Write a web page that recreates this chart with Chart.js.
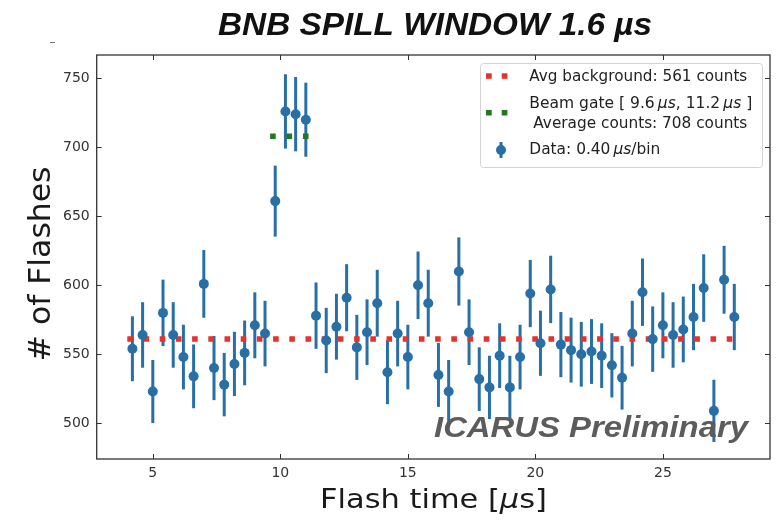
<!DOCTYPE html>
<html>
<head>
<meta charset="utf-8">
<script src="https://cdn.jsdelivr.net/npm/chart.js@4.4.1/dist/chart.umd.min.js"></script>
<style>
  html, body { margin: 0; padding: 0; background: #fff; }
  #myChart { display: block; }
</style>
</head>
<body>
<canvas id="myChart" width="779" height="521"></canvas>
<script>
// flash time bins (us), 0.40 us/bin
const times = [4.2, 4.6, 5.0, 5.4, 5.8, 6.2, 6.6, 7.0, 7.4, 7.8,
  8.2, 8.6, 9.0, 9.4, 9.8, 10.2, 10.6, 11.0, 11.4, 11.8,
  12.2, 12.6, 13.0, 13.4, 13.8, 14.2, 14.6, 15.0, 15.4, 15.8,
  16.2, 16.6, 17.0, 17.4, 17.8, 18.2, 18.6, 19.0, 19.4, 19.8,
  20.2, 20.6, 21.0, 21.4, 21.8, 22.2, 22.6, 23.0, 23.4, 23.8,
  24.2, 24.6, 25.0, 25.4, 25.8, 26.2, 26.6, 27.0, 27.4, 27.8]
// number of flashes per bin
const counts = [554, 564, 523, 580, 564, 548, 534, 601, 540, 528,
  543, 551, 571, 565, 661, 726, 724, 720, 578, 560,
  570, 591, 555, 566, 587, 537, 565, 548, 600, 587,
  535, 523, 610, 566, 532, 526, 549, 526, 548, 594,
  558, 597, 557, 553, 550, 552, 549, 542, 533, 565,
  595, 561, 571, 564, 568, 577, 598, 509, 604, 577]
const bkgRange = [4.0, 28.0]
const gateRange = [9.6, 11.2]
const averages = [561, 708] // background, beam gate
const xTicks = [5, 10, 15, 20, 25]
const yTicks = [500, 550, 600, 650, 700, 750]

// poisson errors
const errors = counts.map(n => Math.sqrt(n))

const blue = '#276fa5'
const red = '#e9302a'
const green = '#1f7a1f'
const ink = '#333333'

Chart.defaults.font.family = '"DejaVu Sans"'

// draws text pieces (some italic) squeezed/stretched to a given width
function drawRuns(ctx, runs, x, y, size, width, family) {
  family = family || '"DejaVu Sans"'
  let total = 0
  runs.forEach(r => {
    ctx.font = r[1] + ' ' + size + 'px ' + family
    total += ctx.measureText(r[0]).width
  })
  const k = width ? width / total : 1
  ctx.save()
  ctx.translate(x, y)
  ctx.scale(k, 1)
  let cx = 0
  runs.forEach(r => {
    ctx.font = r[1] + ' ' + size + 'px ' + family
    ctx.fillText(r[0], cx, 0)
    cx += ctx.measureText(r[0]).width
  })
  ctx.restore()
}

const errorBars = {
  id: 'errorBars',
  beforeDatasetsDraw(chart) {
    const ctx = chart.ctx
    const xs = chart.scales.x, ys = chart.scales.y
    ctx.save()
    ctx.strokeStyle = blue
    ctx.lineWidth = 3
    times.forEach((t, i) => {
      const px = xs.getPixelForValue(t)
      ctx.beginPath()
      ctx.moveTo(px, ys.getPixelForValue(counts[i] - errors[i]))
      ctx.lineTo(px, ys.getPixelForValue(counts[i] + errors[i]))
      ctx.stroke()
    })
    ctx.restore()
  }
}

const decor = {
  id: 'decor',
  afterDraw(chart) {
    const ctx = chart.ctx
    const a = chart.chartArea
    const xs = chart.scales.x, ys = chart.scales.y
    ctx.save()

    // frame + inward ticks on all sides
    ctx.strokeStyle = ink
    ctx.lineWidth = 1.3
    ctx.strokeRect(a.left, a.top, a.right - a.left, a.bottom - a.top)
    ctx.lineWidth = 1
    ctx.beginPath()
    xTicks.forEach(v => {
      const px = Math.round(xs.getPixelForValue(v)) + 0.5
      ctx.moveTo(px, a.bottom); ctx.lineTo(px, a.bottom - 5)
      ctx.moveTo(px, a.top); ctx.lineTo(px, a.top + 5)
    })
    yTicks.forEach(v => {
      const py = Math.round(ys.getPixelForValue(v)) + 0.5
      ctx.moveTo(a.left, py); ctx.lineTo(a.left + 5, py)
      ctx.moveTo(a.right, py); ctx.lineTo(a.right - 5, py)
    })
    ctx.stroke()

    // stray tick mark top left
    ctx.strokeStyle = '#777'
    ctx.beginPath(); ctx.moveTo(50, 42.5); ctx.lineTo(55, 42.5); ctx.stroke()

    // title
    ctx.fillStyle = '#111'
    ctx.textAlign = 'left'
    ctx.textBaseline = 'alphabetic'
    drawRuns(ctx, [['BNB SPILL WINDOW 1.6 \u00b5s', 'italic bold']], 218, 35, 31, 434, '"Liberation Sans"')

    // axis titles
    ctx.fillStyle = '#1a1a1a'
    drawRuns(ctx, [['Flash time [', 'normal'], ['\u00b5', 'italic'], ['s]', 'normal']], 320, 508, 27, 227)
    ctx.save()
    ctx.translate(50, 361.5)
    ctx.rotate(-Math.PI / 2)
    drawRuns(ctx, [['# of Flashes', 'normal']], 0, 0, 30, 195)
    ctx.restore()

    // watermark
    ctx.fillStyle = '#5c5c5c'
    drawRuns(ctx, [['ICARUS Preliminary', 'italic bold']], 434, 437, 29, 314, '"Liberation Sans"')

    // legend
    ctx.fillStyle = 'rgba(255,255,255,0.85)'
    ctx.strokeStyle = '#d4d4d4'
    ctx.lineWidth = 1
    ctx.beginPath()
    ctx.roundRect(480.5, 63.5, 282, 104, 3)
    ctx.fill(); ctx.stroke()

    ctx.fillStyle = red
    ctx.fillRect(486, 73.3, 5.7, 5.5)
    ctx.fillRect(501.7, 73.3, 5.7, 5.5)
    ctx.fillStyle = green
    ctx.fillRect(486, 110, 5.7, 5.5)
    ctx.fillRect(501.7, 110, 5.7, 5.5)
    ctx.strokeStyle = blue
    ctx.lineWidth = 3
    ctx.beginPath(); ctx.moveTo(501, 142); ctx.lineTo(501, 158); ctx.stroke()
    ctx.fillStyle = blue
    ctx.beginPath(); ctx.arc(501, 150, 5, 0, Math.PI * 2); ctx.fill()

    ctx.fillStyle = '#222'
    ctx.textBaseline = 'middle'
    drawRuns(ctx, [['Avg background: ' + averages[0] + ' counts', 'normal']], 529.3, 77, 15, 218)
    drawRuns(ctx, [['Beam gate [ ' + gateRange[0].toFixed(1) + '\u2009', 'normal'], ['\u00b5s', 'italic'],
      [', ' + gateRange[1].toFixed(1) + '\u2009', 'normal'], ['\u00b5s', 'italic'], [' ]', 'normal']], 529.3, 104, 15, 223)
    drawRuns(ctx, [['Average counts: ' + averages[1] + ' counts', 'normal']], 533.3, 124.5, 15, 214)
    drawRuns(ctx, [['Data: 0.40\u2009', 'normal'], ['\u00b5s', 'italic'], ['/bin', 'normal']], 529.3, 150.5, 15, 131)

    ctx.restore()
  }
}

new Chart('myChart', {
  type: 'scatter',
  data: {
    datasets: [{
      label: 'Data',
      data: times.map((t, i) => ({ x: t, y: counts[i] })),
      backgroundColor: blue,
      borderWidth: 0,
      pointRadius: 5
    }, {
      label: 'Avg background',
      data: bkgRange.map(t => ({ x: t, y: averages[0] })),
      showLine: true,
      borderColor: red,
      borderWidth: 5.5,
      borderDash: [5.6, 10.6],
      borderCapStyle: 'butt',
      pointRadius: 0
    }, {
      label: 'Beam gate',
      data: gateRange.map(t => ({ x: t, y: averages[1] })),
      showLine: true,
      borderColor: green,
      borderWidth: 5.5,
      borderDash: [5.6, 10.8],
      borderCapStyle: 'butt',
      pointRadius: 0
    }]
  },
  options: {
    responsive: false,
    animation: false,
    devicePixelRatio: 1,
    layout: { padding: { left: 0, right: 9, top: 55, bottom: 0 } },
    plugins: { legend: { display: false }, tooltip: { enabled: false } },
    scales: {
      x: {
        type: 'linear',
        min: 2.8,
        max: 29.2,
        grid: { display: false, drawTicks: false },
        border: { display: false },
        ticks: { stepSize: 5, includeBounds: false, padding: 6, color: ink, font: { size: 14 } },
        afterFit(scale) { scale.height = 62 }
      },
      y: {
        type: 'linear',
        min: 474.1,
        max: 766.9,
        grid: { display: false, drawTicks: false },
        border: { display: false },
        ticks: { stepSize: 50, includeBounds: false, padding: 7, color: ink, font: { size: 14 } },
        afterFit(scale) { scale.width = 96.7 }
      }
    }
  },
  plugins: [errorBars, decor]
})
</script>
</body>
</html>
